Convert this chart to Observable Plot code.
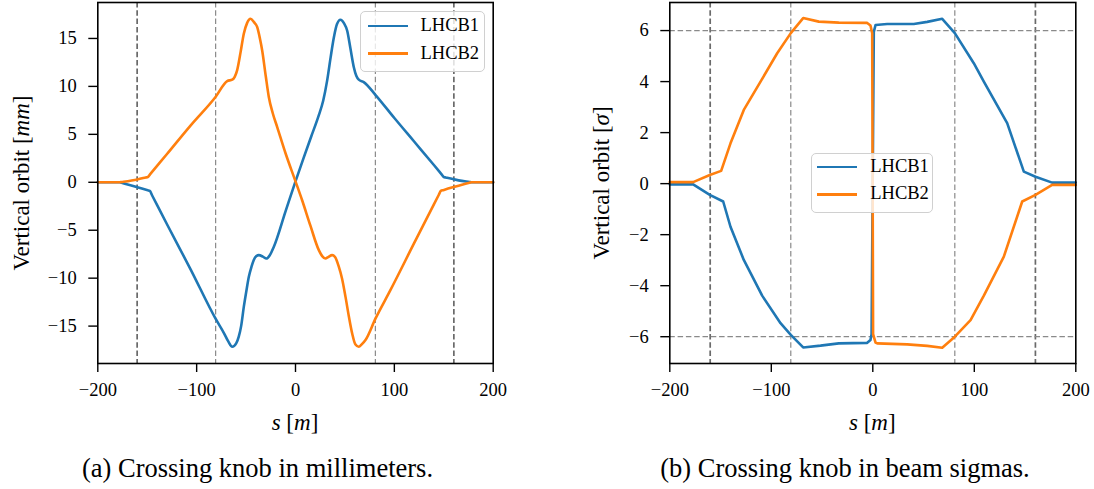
<!DOCTYPE html>
<html><head><meta charset="utf-8">
<script src="https://cdn.jsdelivr.net/npm/d3@7"></script>
<script src="https://cdn.jsdelivr.net/npm/@observablehq/plot@0.6"></script>
<style>
body{margin:0;background:#fff;font-family:"Liberation Serif","Times New Roman",serif;color:#000;}
#fig{position:relative;width:1094px;height:489px;overflow:hidden;}
.panel{position:absolute;top:0;}
.ylab{position:absolute;transform:translate(-50%,-50%) rotate(-90deg);font-size:23px;line-height:1;white-space:nowrap;}
.xlab{position:absolute;transform:translate(-50%,-50%);font-size:23px;line-height:1;white-space:nowrap;}
.cap{position:absolute;transform:translate(-50%,-50%);font-size:26.5px;line-height:1;white-space:nowrap;}
.leg{position:absolute;border:1.3px solid #d0d0d0;border-radius:5px;background:rgba(255,255,255,0.8);box-sizing:border-box;}
.leg .sw{position:absolute;height:2.7px;}
.leg .tx{position:absolute;font-size:18.5px;line-height:1;transform:translateY(-52%);white-space:nowrap;}
</style></head>
<body><div id="fig"></div>
<script>
// ---- data: panel (a) vertical orbit in mm ----
const seriesNames = ["LHCB1", "LHCB2"];
const seriesColors = ["#1f77b4", "#ff7f0e"];
const sA_B1 = [-200,-180,-178,-176,-160,-149.5,-147.4,-145,-130,-106,-81,-72,-68,-64,-60,-57.4,-55,-52.3,-49.5,-47.2,-44.5,-42.2,-39.5,-37.1,-33,-29.5,-26,-22,-10,0,8.4,16,23.6,28,32,35.5,38.8,42,45.5,49,52.3,55.5,59,61.5,64,69,81,100,120,140,148,150,152,165,176,178,180,200];
const vA_B1 = [0,0,0,-0.06,-0.52,-0.84,-0.9,-1.38,-4.38,-9.1,-14.2,-15.8,-16.6,-17.15,-16.8,-16.1,-15.0,-13.0,-11.2,-9.86,-8.8,-8.1,-7.7,-7.6,-7.75,-7.95,-7.6,-6.74,-3.0,0.1,2.6,4.8,7.0,8.5,10.6,13.0,15.1,16.5,16.95,16.6,15.8,14.0,12.0,11.1,10.7,10.45,9.1,6.7,4.25,1.8,0.8,0.55,0.5,0.2,0.03,0,0,0];
const sA_B2 = [-200,-180,-178,-176,-160,-151.5,-149.4,-147,-130,-106,-80.9,-69.1,-64,-61.5,-59,-55.5,-52.3,-49,-45.5,-42,-38.8,-36,-33.7,-30,-27,-23,-18.5,-10,0,6.8,15,23.6,27,30.3,33,37.1,40,43.8,47,50.6,54,57.4,60.5,64,67,70.8,81,96,120,140,145,147,149.5,160,176,178,180,200];
const vA_B2 = [0,0,0,0.03,0.3,0.5,0.55,0.85,2.95,5.94,8.9,10.55,10.7,11.0,11.7,13.6,15.5,16.6,17.05,16.7,16.2,15.0,13.75,11.0,8.9,7.2,5.76,3.0,0.1,-1.9,-4.5,-7.08,-7.7,-7.95,-7.8,-7.6,-7.8,-8.8,-10.0,-11.95,-14.0,-15.8,-16.9,-17.15,-16.9,-16.45,-14.2,-11.25,-6.35,-2.3,-1.3,-0.9,-0.82,-0.5,-0.05,0,0,0];
// ---- data: panel (b) vertical orbit in beam sigmas ----
const sB_B1 = [-200,-177,-160.6,-147.4,-140.2,-127.1,-109,-90.9,-80.8,-68.6,-51.5,-33.5,-5.5,-2.3,-1.2,1.0,2.7,14.2,40.4,53.6,68.4,80.8,99.5,109.4,132.4,148.8,160.3,176.7,200];
const vB_B1 = [-0.03,-0.03,-0.44,-0.7,-1.69,-2.99,-4.39,-5.47,-5.93,-6.42,-6.35,-6.26,-6.24,-6.13,-5.9,5.95,6.22,6.26,6.26,6.34,6.46,5.9,4.72,4.0,2.37,0.47,0.27,0.04,0.04];
const sB_B2 = [-200,-177,-160.6,-149.4,-140.2,-127.1,-110.6,-94.2,-80.8,-68.6,-53.2,-33.5,-5.5,-2.3,-0.6,0.3,2.7,4.3,33.9,53.6,68.4,80.8,96.3,109.4,129.1,147.2,160.3,176.7,200];
const vB_B2 = [0.06,0.06,0.34,0.5,1.58,2.89,4.0,5.11,5.9,6.49,6.35,6.31,6.3,6.2,5.9,-5.9,-6.23,-6.26,-6.3,-6.36,-6.43,-6.0,-5.35,-4.39,-2.86,-0.7,-0.44,-0.05,-0.05];
// ---- reference lines and ticks ----
const markerS = [-160.2, -80.8, 80.8, 160.2];
const markerStrong = [true, false, false, true];
const sigmaLines = [-6, 6];
const xTicks = [-200, -100, 0, 100, 200];
const yTicksA = [-15, -10, -5, 0, 5, 10, 15];
const yTicksB = [-6, -4, -2, 0, 2, 4, 6];
const yLabels = ["Vertical orbit [<i>mm</i>]", "Vertical orbit [<i>σ</i>]"];
const xLabel = "<i>s</i> [<i>m</i>]";
const captions = ["(a) Crossing knob in millimeters.", "(b) Crossing knob in beam sigmas."];

function rows(s, v, name){ return s.map((d,i)=>({s:d, v:v[i], series:name})); }
const dataA = [...rows(sA_B1,vA_B1,"LHCB1"), ...rows(sA_B2,vA_B2,"LHCB2")];
const dataB = [...rows(sB_B1,vB_B1,"LHCB1"), ...rows(sB_B2,vB_B2,"LHCB2")];
const markers = markerS.map((s,i)=>({s, strong: markerStrong[i]}));

const fontFamily = "'Liberation Serif', 'Times New Roman', serif";
const tickFont = 18.5;
function panel({width, marginLeft, marginRight, yDomain, yTicks, data, curve, hlines}) {
  return Plot.plot({
    width, height: 440,
    marginLeft, marginRight, marginTop: 2, marginBottom: 77,
    style: {fontFamily, fontSize: tickFont + "px", background: "transparent", color: "#000"},
    x: {domain: [-200, 200], label: null},
    y: {domain: yDomain, label: null},
    color: {domain: seriesNames, range: seriesColors},
    marks: [
      Plot.ruleX(markers.filter(d=>!d.strong), {x: "s", stroke: "#8a8a8a", strokeWidth: 1.2, strokeDasharray: "5.5,2.8"}),
      Plot.ruleX(markers.filter(d=>d.strong), {x: "s", stroke: "#6a6a6a", strokeWidth: 1.7, strokeDasharray: "5.5,2.8"}),
      ...(hlines ? [Plot.ruleY(hlines, {stroke: "#8a8a8a", strokeWidth: 1.2, strokeDasharray: "5.5,2.8"})] : []),
      Plot.line(data, {x: "s", y: "v", z: "series", stroke: "series", strokeWidth: 2.6, curve}),
      Plot.frame({stroke: "#000", strokeWidth: 1.6}),
      Plot.axisX({ticks: xTicks, tickSize: 9, tickPadding: 10, strokeWidth: 1.4, fontSize: tickFont, label: null}),
      Plot.axisY({ticks: yTicks, tickSize: 9, tickPadding: 12, strokeWidth: 1.4, fontSize: tickFont, label: null})
    ]
  });
}

const fig = document.getElementById("fig");
function place(el, left){ const d = document.createElement("div"); d.className = "panel"; d.style.left = left + "px"; d.appendChild(el); fig.appendChild(d); }

place(panel({width: 547, marginLeft: 97.3, marginRight: 547 - 492.7, yDomain: [-18.9, 18.75], yTicks: yTicksA, data: dataA, curve: "monotone-x"}), 0);
place(panel({width: 547, marginLeft: 669.3 - 547, marginRight: 1094 - 1075.3, yDomain: [-7.05, 7.1], yTicks: yTicksB, data: dataB, curve: "linear", hlines: sigmaLines}), 547);

function addDiv(cls, html, left, top){ const d = document.createElement("div"); d.className = cls; d.innerHTML = html; d.style.left = left + "px"; d.style.top = top + "px"; fig.appendChild(d); return d; }
addDiv("ylab", yLabels[0], 21, 183);
addDiv("ylab", yLabels[1], 601, 183);
addDiv("xlab", xLabel, 295, 422);
addDiv("xlab", xLabel, 872.3, 422);
addDiv("cap", captions[0], 257.5, 468);
addDiv("cap", captions[1], 845, 468);

function legend(left, top, w, h, lineX, lineW, rowsY, textX){
  const box = document.createElement("div"); box.className = "leg";
  Object.assign(box.style, {left: left+"px", top: top+"px", width: w+"px", height: h+"px"});
  seriesNames.forEach((n,i)=>{
    const sw = document.createElement("div"); sw.className = "sw";
    Object.assign(sw.style, {left: lineX+"px", top: (rowsY[i]-1.35)+"px", width: lineW+"px", background: seriesColors[i]});
    const tx = document.createElement("div"); tx.className = "tx"; tx.textContent = n;
    Object.assign(tx.style, {left: textX+"px", top: rowsY[i]+"px"});
    box.appendChild(sw); box.appendChild(tx);
  });
  fig.appendChild(box);
}
legend(360, 11, 125, 61, 6.7, 40, [14, 41.7], 59.5);
legend(810.7, 152.7, 122.6, 60.6, 5.8, 39.4, [13.2, 40.8], 58.6);
</script>
</body></html>
